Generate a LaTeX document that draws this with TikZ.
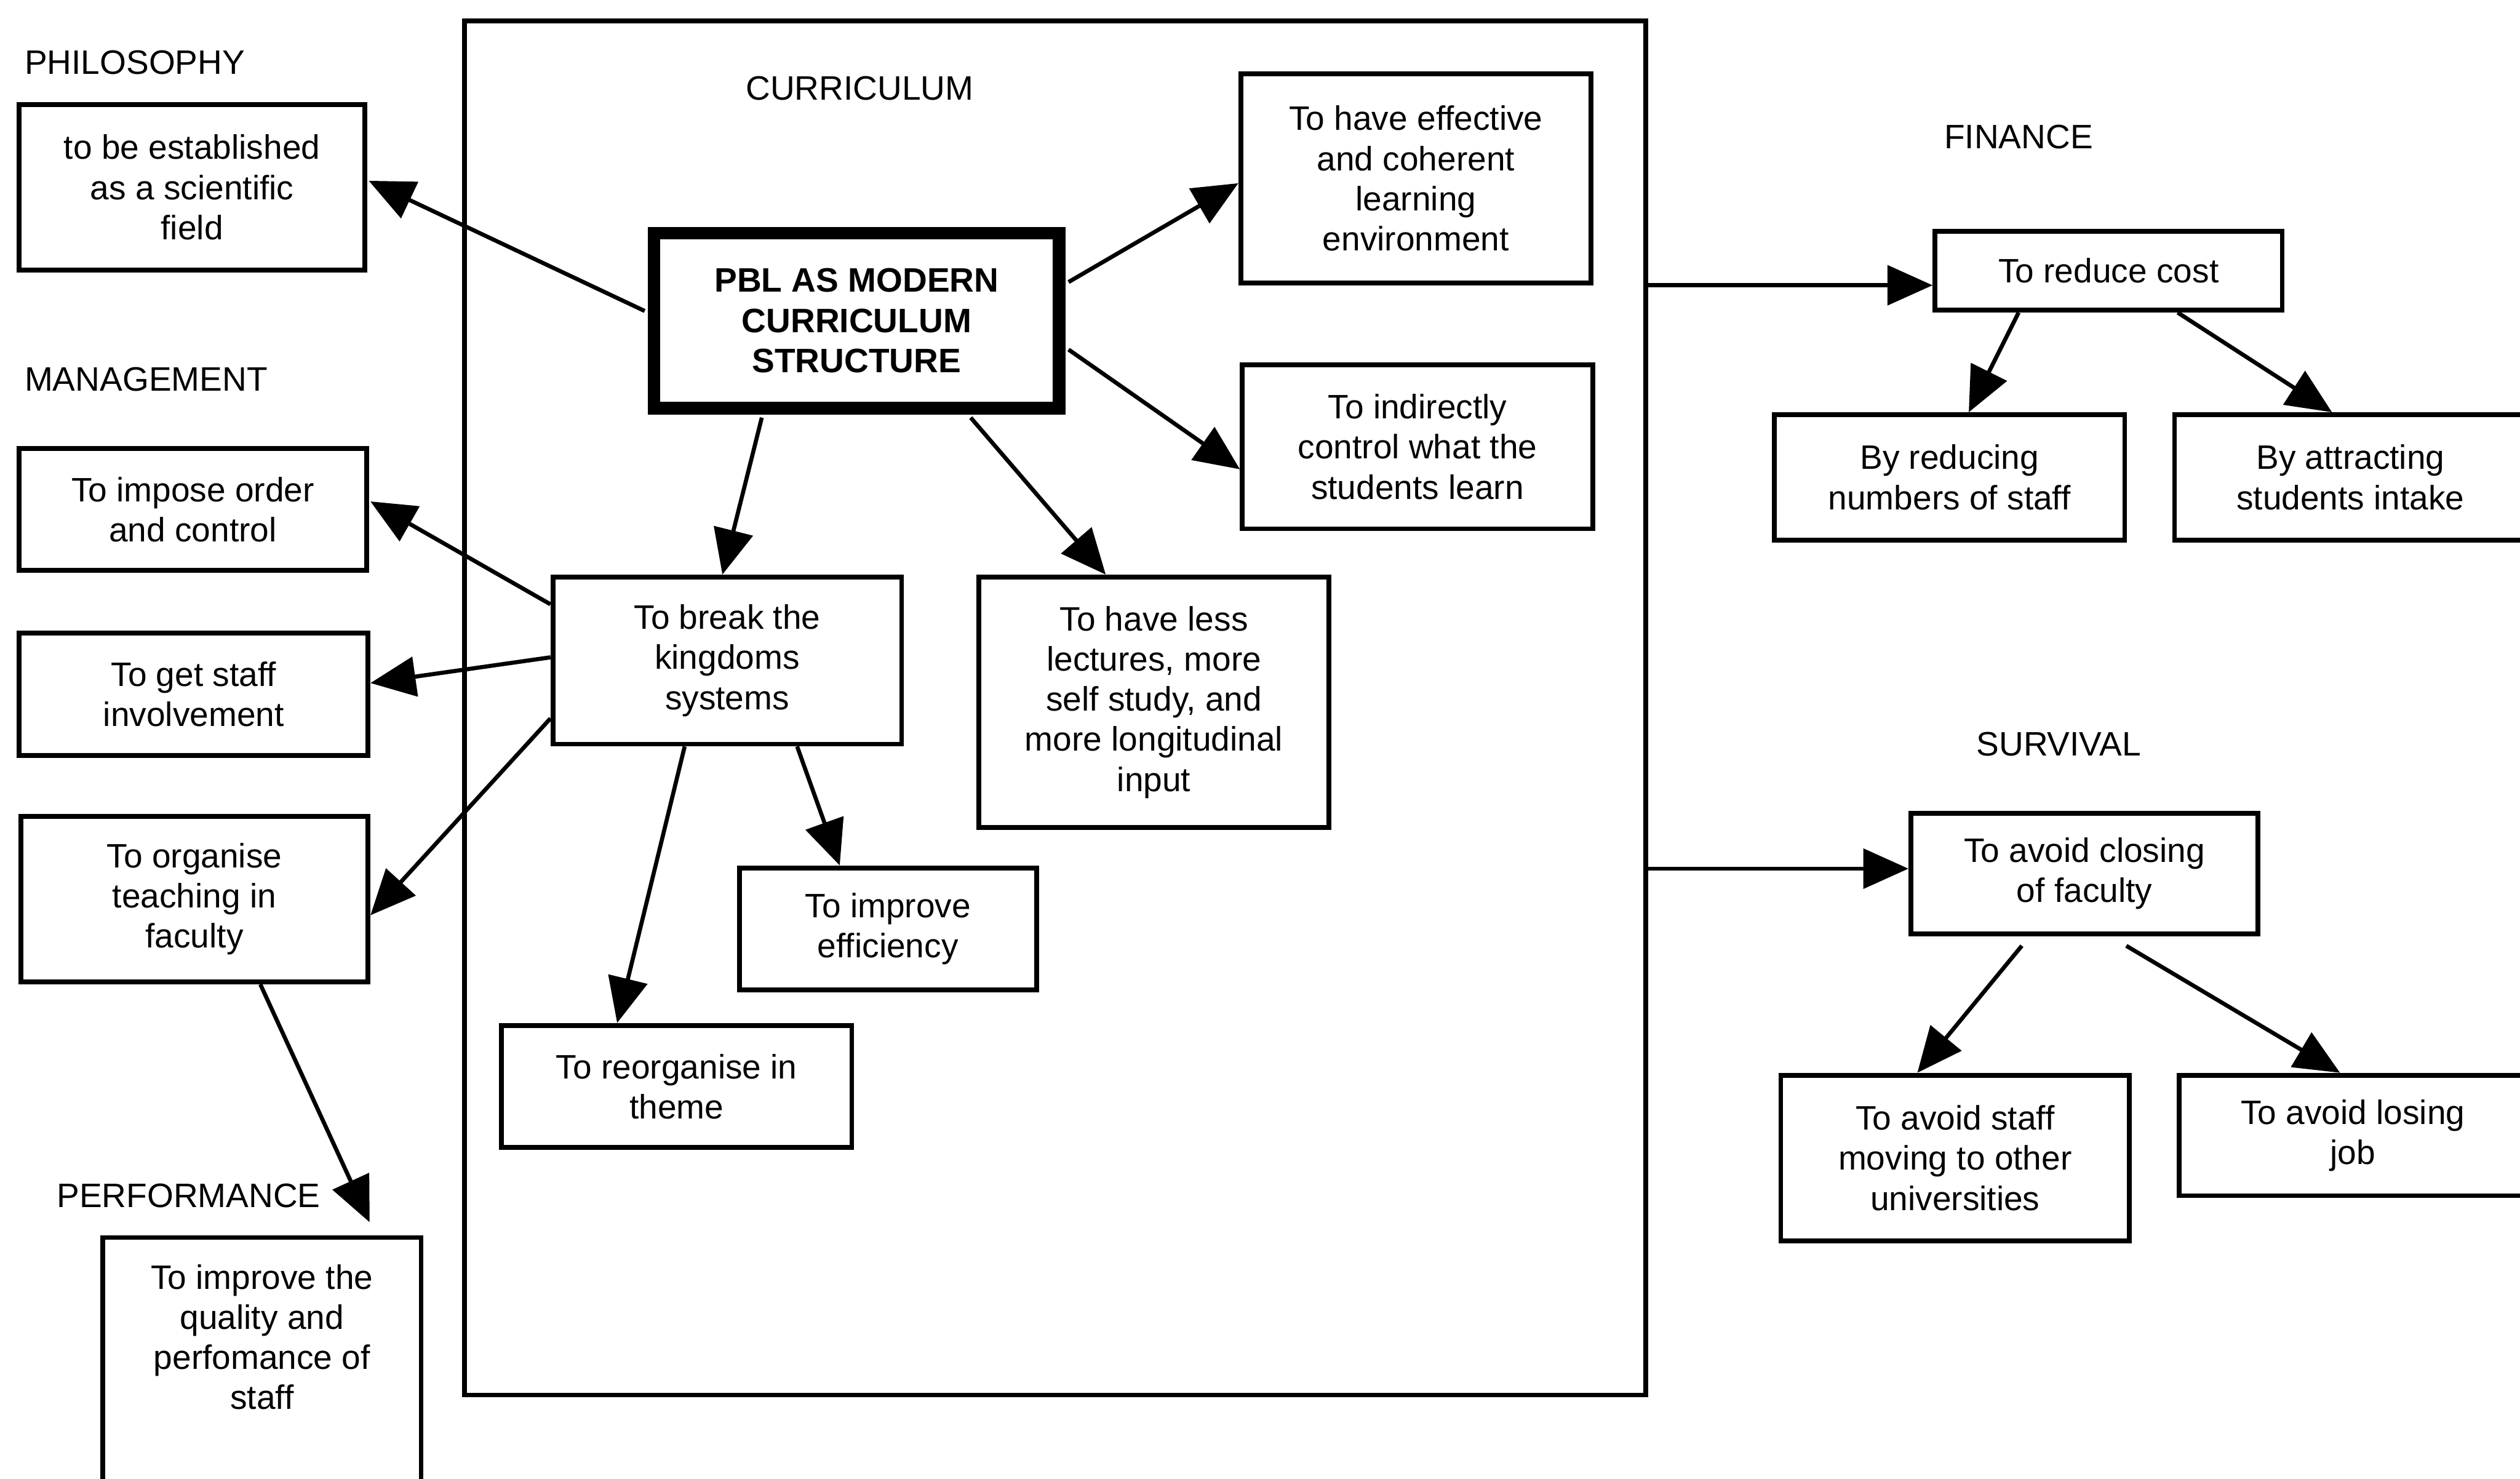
\documentclass[tikz,border=0pt]{standalone}
\usepackage{fontspec}
\setmainfont{Liberation Sans}
\usetikzlibrary{arrows.meta,calc}
\newdimen\pxu \pxu=0.02cm
\newcommand\boxfont{\fontsize{12}{14.2}\selectfont}
% \placebox[extra style]{name}{x1}{y1}{x2}{y2}{text}: box given by its corners
\newcommand\placebox[7][]{%
  \node[box,#1,minimum width={(#5-(#3))*\pxu},minimum height={(#6-(#4))*\pxu}]
    (#2) at ({(#3+#5)/2},{(#4+#6)/2}) {#7};}
\tikzset{
  box/.style={draw,line width=1.7pt,rectangle,align=center,inner sep=0pt,font=\boxfont},
  thickbox/.style={line width=4.4pt,font=\boxfont\bfseries},
  arr/.style={line width=1.45pt,-{Triangle[length=16pt,width=14pt]}},
  head/.style={font=\boxfont,inner sep=0pt}
}
\begin{document}
\begin{tikzpicture}[x=0.02cm,y=-0.02cm]
\useasboundingbox (0,0) rectangle (1568,920);
\clip (0,0) rectangle (1568,920);

% section headings
\node[head,anchor=west] (hphil) at (15,39) {PHILOSOPHY};
\node[head,anchor=west] (hman) at (15,236) {MANAGEMENT};
\node[head,anchor=west] (hperf) at (35,744) {PERFORMANCE};
\node[head] (hcur) at (535,55) {CURRICULUM};
\node[head] (hfin) at (1256,85) {FINANCE};
\node[head] (hsur) at (1281,463) {SURVIVAL};

% left column
\placebox{phil}{12}{65}{227}{168}{to be established\\as a scientific\\field}
\placebox{imp}{12}{279}{228}{355}{To impose order\\and control}
\placebox{stf}{12}{394}{229}{470}{To get staff\\involvement}
\placebox{org}{13}{508}{229}{611}{To organise\\teaching in\\faculty}
\placebox{perf}{64}{770}{262}{960}{}
\node[head,align=center] (perftext) at (163,832) {To improve the\\quality and\\perfomance of\\staff};

% curriculum frame and its contents
\placebox{cur}{289}{13}{1024}{868}{}
\placebox[thickbox]{pbl}{407}{145}{659}{254}{PBL AS MODERN\\CURRICULUM\\STRUCTURE}
\placebox{eff}{772}{46}{990}{176}{To have effective\\and coherent\\learning\\environment}
\placebox{ind}{773}{227}{991}{329}{To indirectly\\control what the\\students learn}
\placebox{brk}{344}{359}{561}{463}{To break the\\kingdoms\\systems}
\placebox{less}{609}{359}{827}{515}{To have less\\lectures, more\\self study, and\\more longitudinal\\input}
\placebox{effi}{460}{540}{645}{616}{To improve\\efficiency}
\placebox{reo}{312}{638}{530}{714}{To reorganise in\\theme}

% finance
\placebox{cost}{1204}{144}{1420}{193}{To reduce cost}
\placebox{rstf}{1104}{258}{1322}{336}{By reducing\\numbers of staff}
\placebox{att}{1353}{258}{1572}{336}{By attracting\\students intake}

% survival
\placebox{clo}{1189}{506}{1405}{581}{To avoid closing\\of faculty}
\placebox{avs}{1108}{669}{1325}{772}{To avoid staff\\moving to other\\universities}
\placebox{los}{1356}{669}{1572}{744}{To avoid losing\\job}

% connectors from the central box
\draw[arr] ($(pbl.west)+(-2,-6)$) -- ($(phil.east)+(1,-4)$);
\draw[arr] ($(pbl.east)+(2,-24)$) -- ($(eff.west)+(0,3)$);
\draw[arr] ($(pbl.east)+(2,18)$) -- ($(ind.west)+(0,14)$);
\draw[arr] ($(pbl.south)+(-59,2)$) -- ($(brk.north)+(-3,0)$);
\draw[arr] ($(pbl.south)+(71,2)$) -- ($(less.north)+(-30,0)$);

% connectors from "To break the kingdoms systems"
\draw[arr] ($(brk.west)+(0,-35)$) -- ($(imp.east)+(1,-5)$);
\draw[arr] ($(brk.west)+(0,-2)$) -- ($(stf.east)+(0,-7)$);
\draw[arr] ($(brk.west)+(0,36)$) -- ($(org.east)+(0,10)$);
\draw[arr] ($(brk.south)+(43.5,0)$) -- ($(effi.north)+(-30,0)$);
\draw[arr] ($(brk.south)+(-26.5,0)$) -- ($(reo.north)+(-37,0)$);
\draw[arr] ($(org.south)+(41,0)$) -- ($(perf.north)+(67,-8)$);

% connectors to finance and survival
\coordinate (costin) at ($(cost.west)+(0,9)$);
\coordinate (cloin) at ($(clo.west)+(0,-3)$);
\draw[arr] (cur.east |- costin) -- (costin);
\draw[arr] (cur.east |- cloin) -- (cloin);
\draw[arr] ($(cost.south)+(-56,0)$) -- ($(rstf.north)+(12,0)$);
\draw[arr] ($(cost.south)+(43,0)$) -- ($(att.north)+(-11.5,0)$);
\draw[arr] ($(clo.south)+(-39,6)$) -- ($(avs.north)+(-23.5,0)$);
\draw[arr] ($(clo.south)+(26,6)$) -- ($(los.north)+(-8,0)$);
\end{tikzpicture}
\end{document}
